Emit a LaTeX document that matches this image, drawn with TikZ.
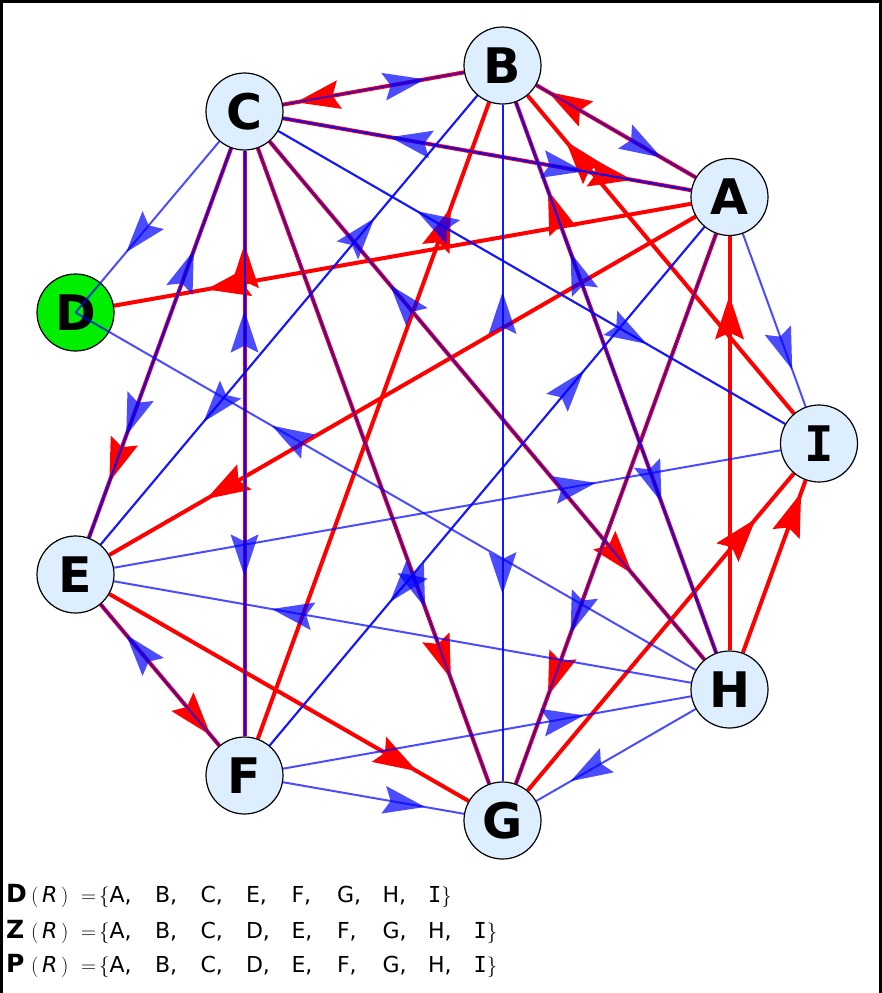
\documentclass[tikz,border=0pt]{standalone}
\usepackage{fontspec}
\setmainfont{DejaVu Sans}
\newfontfamily\monofont{DejaVu Sans Mono}
\usetikzlibrary{decorations.markings}
\definecolor{vertexfill}{RGB}{221,238,255}
\definecolor{rootgreen}{RGB}{0,238,0}
\pgfdeclarelayer{edges}
\pgfdeclarelayer{front}
\pgfsetlayers{edges,main,front}
\tikzset{
  vertex/.style={circle, draw=black, line width=1.2pt, fill=vertexfill,
    minimum size=77pt, inner sep=0pt, font=\fontsize{49}{49}\selectfont\bfseries},
  redline/.style={draw=red, line width=4pt},
  blueline/.style={draw=blue, line width=2pt, opacity=0.7},
  redtip/.style={postaction=decorate, decoration={markings, mark=at position 0.8 with
    {\fill[red] (0pt,0pt) -- (-44pt,14.5pt) -- (-37pt,0pt) -- (-44pt,-14.5pt) -- cycle;}}},
  bluetip/.style={postaction=decorate, decoration={markings, mark=at position 0.7 with
    {\fill[blue, opacity=0.7] (0pt,0pt) -- (-42pt,14pt) -- (-35pt,0pt) -- (-42pt,-14pt) -- cycle;}}},
  setrow/.style={anchor=base west, inner sep=0pt, font=\fontsize{22}{22}\selectfont},
}
\newcommand\redarc[2]{\draw[redline] (#1) -- (#2); \path[redtip] (#1.center) -- (#2.center);}
\newcommand\bluearc[2]{\draw[blueline] (#1) -- (#2); \path[bluetip] (#1.center) -- (#2.center);}
\newcommand\itm[1]{\makebox[45.5pt][l]{#1,}}
\newcommand\rowhead[1]{\makebox[25pt][l]{\fontsize{25}{25}\selectfont\bfseries #1}%
  \makebox[50pt][l]{$($\,{\itshape R}\,$)$}\makebox[18pt][l]{$=$}$\{$}

\begin{document}
\begin{tikzpicture}[x=1pt,y=-1pt]
\useasboundingbox (0,0) rectangle (882,993);
\draw[line width=3pt] (1.5,1.5) rectangle (880.5,995);
% vertices
\node[vertex] (a) at (729.5,197) {A};
\node[vertex] (b) at (502.5,65.5) {B};
\node[vertex] (c) at (244.5,111.5) {C};
\node[vertex, fill=rootgreen] (d) at (75.5,312.5) {D};
\node[vertex] (e) at (75.5,574.5) {E};
\node[vertex] (f) at (244.5,775.5) {F};
\node[vertex] (g) at (502.5,820.5) {G};
\node[vertex] (h) at (729.5,689.5) {H};
\node[vertex] (i) at (819,443.5) {\monofont I};
\begin{pgfonlayer}{edges}
% red relation
\redarc{a}{b}
\redarc{b}{c}
\redarc{c}{a}
\redarc{a}{d}
\redarc{a}{e}
\redarc{a}{g}
\redarc{h}{a}
\redarc{i}{b}
\redarc{f}{b}
\redarc{h}{b}
\redarc{c}{e}
\redarc{f}{c}
\redarc{c}{g}
\redarc{c}{h}
\redarc{e}{f}
\redarc{e}{g}
\redarc{g}{i}
\redarc{h}{i}
% blue relation
\bluearc{b}{a}
\bluearc{c}{b}
\bluearc{a}{c}
\bluearc{c}{a}
\bluearc{f}{a}
\bluearc{a}{f}
\bluearc{a}{g}
\bluearc{a}{i}
\bluearc{b}{e}
\bluearc{e}{b}
\bluearc{b}{g}
\bluearc{g}{b}
\bluearc{b}{h}
\bluearc{h}{b}
\bluearc{e}{c}
\bluearc{c}{e}
\bluearc{c}{f}
\bluearc{f}{c}
\bluearc{c}{g}
\bluearc{h}{c}
\bluearc{c}{i}
\bluearc{i}{c}
\bluearc{e}{i}
\bluearc{h}{e}
\bluearc{f}{e}
\bluearc{f}{g}
\bluearc{f}{h}
\bluearc{h}{g}
\end{pgfonlayer}
\begin{pgfonlayer}{front}
\draw[blueline] (c) -- (d.center); \path[bluetip] (c.center) -- (d.center);
\draw[blueline] (h) -- (d.center); \path[bluetip] (h.center) -- (d.center);
\end{pgfonlayer}
% sets
\node[setrow] (dset) at (6,902) {\rowhead{D}\itm{A}\itm{B}\itm{C}\itm{E}\itm{F}\itm{G}\itm{H}{\monofont I}$\}$};
\node[setrow] (zset) at (6,938) {\rowhead{Z}\itm{A}\itm{B}\itm{C}\itm{D}\itm{E}\itm{F}\itm{G}\itm{H}{\monofont I}$\}$};
\node[setrow] (pset) at (6,972) {\rowhead{P}\itm{A}\itm{B}\itm{C}\itm{D}\itm{E}\itm{F}\itm{G}\itm{H}{\monofont I}$\}$};
\end{tikzpicture}
\end{document}
